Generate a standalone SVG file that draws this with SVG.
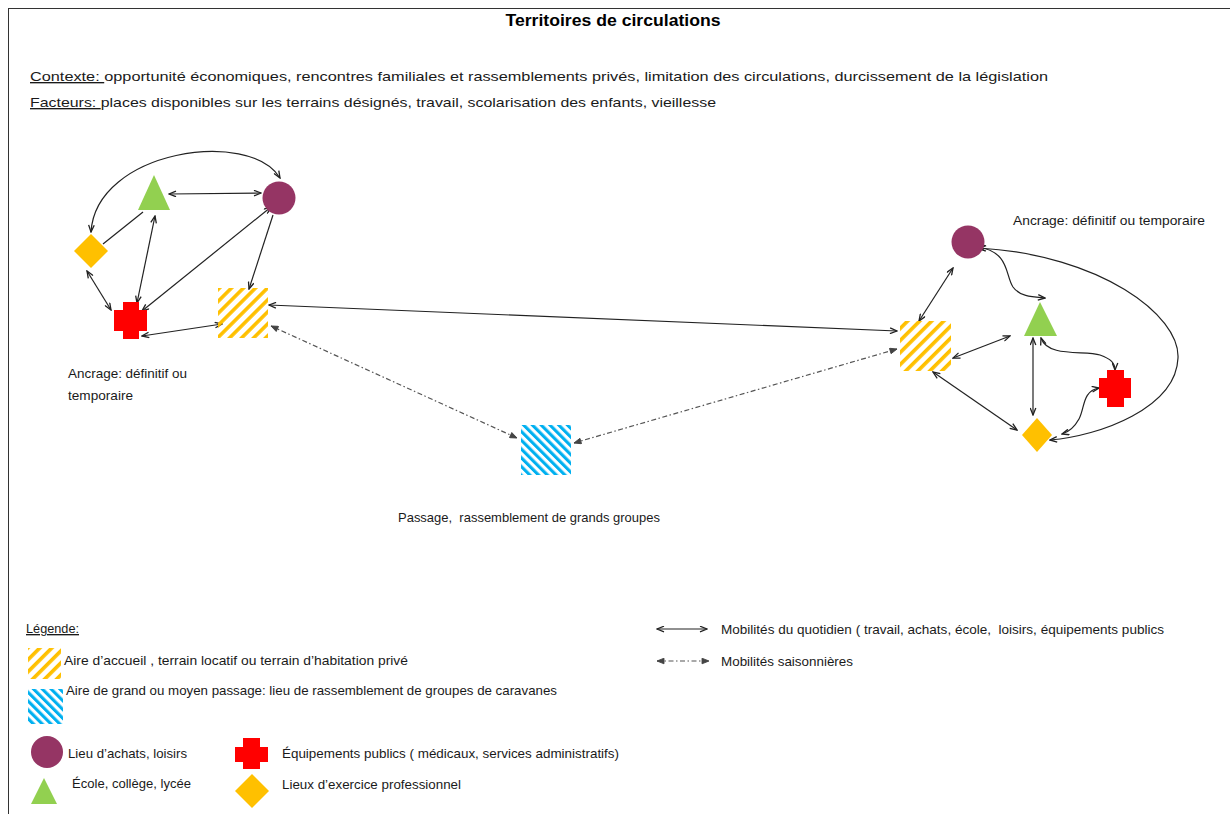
<svg xmlns="http://www.w3.org/2000/svg" width="1230" height="814" viewBox="0 0 1230 814">
<style>
text{font-family:"Liberation Sans",Arial,sans-serif;font-size:13.5px;fill:#1a1a1a}
.title{font-weight:bold;font-size:16px;fill:#000}
.u{text-decoration:underline}
.c{fill:none;stroke:#222;stroke-width:1.2;marker-start:url(#ah);marker-end:url(#ah)}
.e{fill:none;stroke:#222;stroke-width:1.2;marker-end:url(#ah)}
.p{fill:none;stroke:#222;stroke-width:1.2}
.d{fill:none;stroke:#555;stroke-width:1.2;stroke-dasharray:5 2.5 1.5 2.5;marker-start:url(#ahd);marker-end:url(#ahd)}
.purple{fill:#953564}
.green{fill:#92D050}
.red{fill:#FF0000}
.gold{fill:#FFC000}
.hy{fill:url(#hatchY)}
.hb{fill:url(#hatchB)}
</style>
<defs>
<marker id="ah" viewBox="0 0 10 8" refX="9" refY="4" markerWidth="9" markerHeight="7" markerUnits="userSpaceOnUse" orient="auto-start-reverse">
<path d="M1,0.8 L9,4 L1,7.2" fill="none" stroke="#222" stroke-width="1.5"/>
</marker>
<marker id="ahd" viewBox="0 0 10 8" refX="9" refY="4" markerWidth="9" markerHeight="7" markerUnits="userSpaceOnUse" orient="auto-start-reverse">
<path d="M1,0.8 L9,4 L1,7.2 Z" fill="#444" stroke="#444" stroke-width="1"/>
</marker>
<pattern id="hatchY" width="8.5" height="8.5" patternUnits="userSpaceOnUse" patternTransform="rotate(45)">
<rect x="0" y="0" width="3.6" height="8.5" fill="#FFC000"/>
</pattern>
<pattern id="hatchB" width="6.2" height="6.2" patternUnits="userSpaceOnUse" patternTransform="rotate(-45)">
<rect x="0" y="0" width="3.1" height="6.2" fill="#00B0F0"/>
</pattern>
</defs>
<rect x="0" y="0" width="1230" height="814" fill="#fff"/>
<rect x="8.5" y="8.5" width="1240" height="900" fill="none" stroke="#333" stroke-width="1"/>

<g id="header">
<text class="title" x="613" y="26" text-anchor="middle" textLength="215" lengthAdjust="spacingAndGlyphs">Territoires de circulations</text>
<text x="30" y="81" textLength="1018" lengthAdjust="spacingAndGlyphs"><tspan class="u">Contexte: </tspan>opportunité économiques, rencontres familiales et rassemblements privés, limitation des circulations, durcissement de la législation</text>
<text x="30" y="107" textLength="686" lengthAdjust="spacingAndGlyphs"><tspan class="u">Facteurs: </tspan>places disponibles sur les terrains désignés, travail, scolarisation des enfants, vieillesse</text>
</g>

<g id="connectors">
<!-- left cluster -->
<path class="c" d="M91,232 C96,150 250,128 280,178"/>
<path class="c" d="M169,194 L261,193"/>
<path class="p" d="M103,244 L143,212"/>
<path class="c" d="M87,271 L111,310"/>
<path class="c" d="M155,216 L137,303"/>
<path class="c" d="M271,207 L142,311"/>
<path class="e" d="M273,215 L249,289"/>
<path class="c" d="M142,336 L222,324"/>
<!-- long links -->
<path class="c" d="M269,305 L897,331"/>
<path class="d" d="M271,326 L517,438"/>
<path class="d" d="M574,443 L897,349"/>
<!-- right cluster -->
<path class="c" d="M953,268 L919,321"/>
<path class="c" d="M953,358 L1010,336"/>
<path class="c" d="M933,372 L1017,430"/>
<path class="c" d="M978,247 C1010,252 1005,275 1013,287 C1020,297 1034,297 1045,298"/>
<path class="c" d="M979,248 C1100,255 1180,315 1178,358 C1176,408 1100,436 1050,440"/>
<path class="c" d="M1033,338 L1033,415"/>
<path class="c" d="M1041,338 C1048,358 1085,350 1100,355 C1111,359 1115,363 1115,370"/>
<path class="c" d="M1099,388 C1082,391 1085,408 1079,419 C1074,428 1069,432 1062,434"/>
</g>

<g id="left-cluster">
<g id="l-triangle"><polygon class="green" points="154,175 138,210 170,210"/></g>
<g id="l-circle"><circle class="purple" cx="279" cy="198" r="16.5"/></g>
<g id="l-diamond"><polygon class="gold" points="91,234 108,251 91,268 74,251"/></g>
<g id="l-cross"><path class="red" d="M123,302 H139 V310 H147 V331 H139 V339 H123 V331 H114 V310 H123 Z"/></g>
<g id="l-aire"><rect class="hy" x="218" y="288" width="50" height="50"/></g>
<g id="l-label"><text x="68" y="378" textLength="119" lengthAdjust="spacingAndGlyphs">Ancrage: définitif ou</text>
<text x="68" y="400" textLength="65" lengthAdjust="spacingAndGlyphs">temporaire</text></g>
</g>

<g id="passage">
<rect class="hb" x="521" y="425" width="50" height="50"/>
<text x="398" y="522" textLength="262" lengthAdjust="spacingAndGlyphs">Passage,&#160; rassemblement de grands groupes</text>
</g>

<g id="right-cluster">
<g id="r-circle"><circle class="purple" cx="968" cy="242" r="16.5"/></g>
<g id="r-triangle"><polygon class="green" points="1040,302 1024,336 1057,336"/></g>
<g id="r-aire"><rect class="hy" x="900" y="321" width="51" height="50"/></g>
<g id="r-cross"><path class="red" d="M1107,370 H1124 V378 H1131 V398 H1124 V407 H1107 V398 H1099 V378 H1107 Z"/></g>
<g id="r-diamond"><polygon class="gold" points="1037,418 1052,435 1037,452 1022,435"/></g>
<g id="r-label"><text x="1013" y="225" textLength="192" lengthAdjust="spacingAndGlyphs">Ancrage: définitif ou temporaire</text></g>
</g>

<g id="legend">
<text x="26" y="633" textLength="53" lengthAdjust="spacingAndGlyphs"><tspan class="u">Légende:</tspan></text>
<rect class="hy" x="28" y="648" width="33" height="31"/>
<text x="64" y="665" textLength="344" lengthAdjust="spacingAndGlyphs">Aire d’accueil , terrain locatif ou terrain d’habitation privé</text>
<rect class="hb" x="28" y="689" width="35" height="35"/>
<text x="66" y="695" textLength="491" lengthAdjust="spacingAndGlyphs">Aire de grand ou moyen passage: lieu de rassemblement de groupes de caravanes</text>
<circle class="purple" cx="47" cy="752" r="16"/>
<text x="68" y="758" textLength="119" lengthAdjust="spacingAndGlyphs">Lieu d’achats, loisirs</text>
<polygon class="green" points="44,778 31,804 57,804"/>
<text x="72" y="788" textLength="119" lengthAdjust="spacingAndGlyphs">École, collège, lycée</text>
<path class="red" d="M243,738 H260 V747 H268 V762 H260 V769 H243 V762 H235 V747 H243 Z"/>
<text x="282" y="758" textLength="337" lengthAdjust="spacingAndGlyphs">Équipements publics ( médicaux, services administratifs)</text>
<polygon class="gold" points="252,774 269,791 252,808 235,791"/>
<text x="282" y="789" textLength="179" lengthAdjust="spacingAndGlyphs">Lieux d’exercice professionnel</text>
<path class="c" d="M657,629 L707,629"/>
<text x="721" y="634" textLength="443" lengthAdjust="spacingAndGlyphs">Mobilités du quotidien ( travail, achats, école,&#160; loisirs, équipements publics</text>
<path class="d" d="M657,661 L709,661"/>
<text x="721" y="666" textLength="132" lengthAdjust="spacingAndGlyphs">Mobilités saisonnières</text>
</g>
</svg>
